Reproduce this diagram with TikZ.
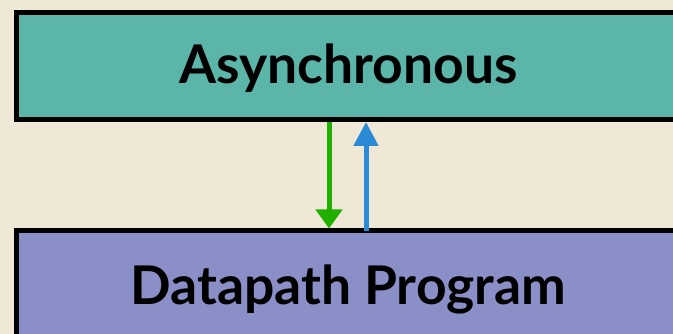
\documentclass[tikz,border=0pt]{standalone}
\usepackage{fontspec}
\setmainfont{Lato}
\usetikzlibrary{arrows.meta}
\definecolor{paper}{HTML}{F0E8D7}
\definecolor{tealbox}{HTML}{5BB5A8}
\definecolor{purplebox}{HTML}{8B8FC8}
\definecolor{downgreen}{HTML}{22B000}
\definecolor{upblue}{HTML}{2B8AD6}
\tikzset{
  layer/.style={draw=black, line width=5pt, minimum width=663.5pt, minimum height=107pt,
    inner sep=0pt, text depth=0pt, font=\fontsize{53.4}{60}\selectfont\bfseries},
  flow/.style={line width=5pt},
}
\begin{document}
\begin{tikzpicture}[x=1pt,y=1pt]
  \fill[paper] (0,0) rectangle (673,334);
  \useasboundingbox (0,0) rectangle (673,334);
  \begin{scope}
    \clip (0,0) rectangle (673,334);
    \node[layer, fill=tealbox, text height=36pt] (async) at (348.25,268) {Asynchronous};
    \node[layer, fill=purplebox, text height=41pt] (datapath) at (348.25,49.5) {Datapath Program};
  \end{scope}
  \coordinate (gx) at (329,0);
  \coordinate (bx) at (366,0);
  \draw[flow, downgreen, -{Triangle[width=26pt,length=19pt]}]
    (async.south -| gx) -- (datapath.north -| gx);
  \draw[flow, upblue, -{Triangle[width=24pt,length=24pt]}]
    ([yshift=-3pt]datapath.north -| bx) -- (async.south -| bx);
\end{tikzpicture}
\end{document}
